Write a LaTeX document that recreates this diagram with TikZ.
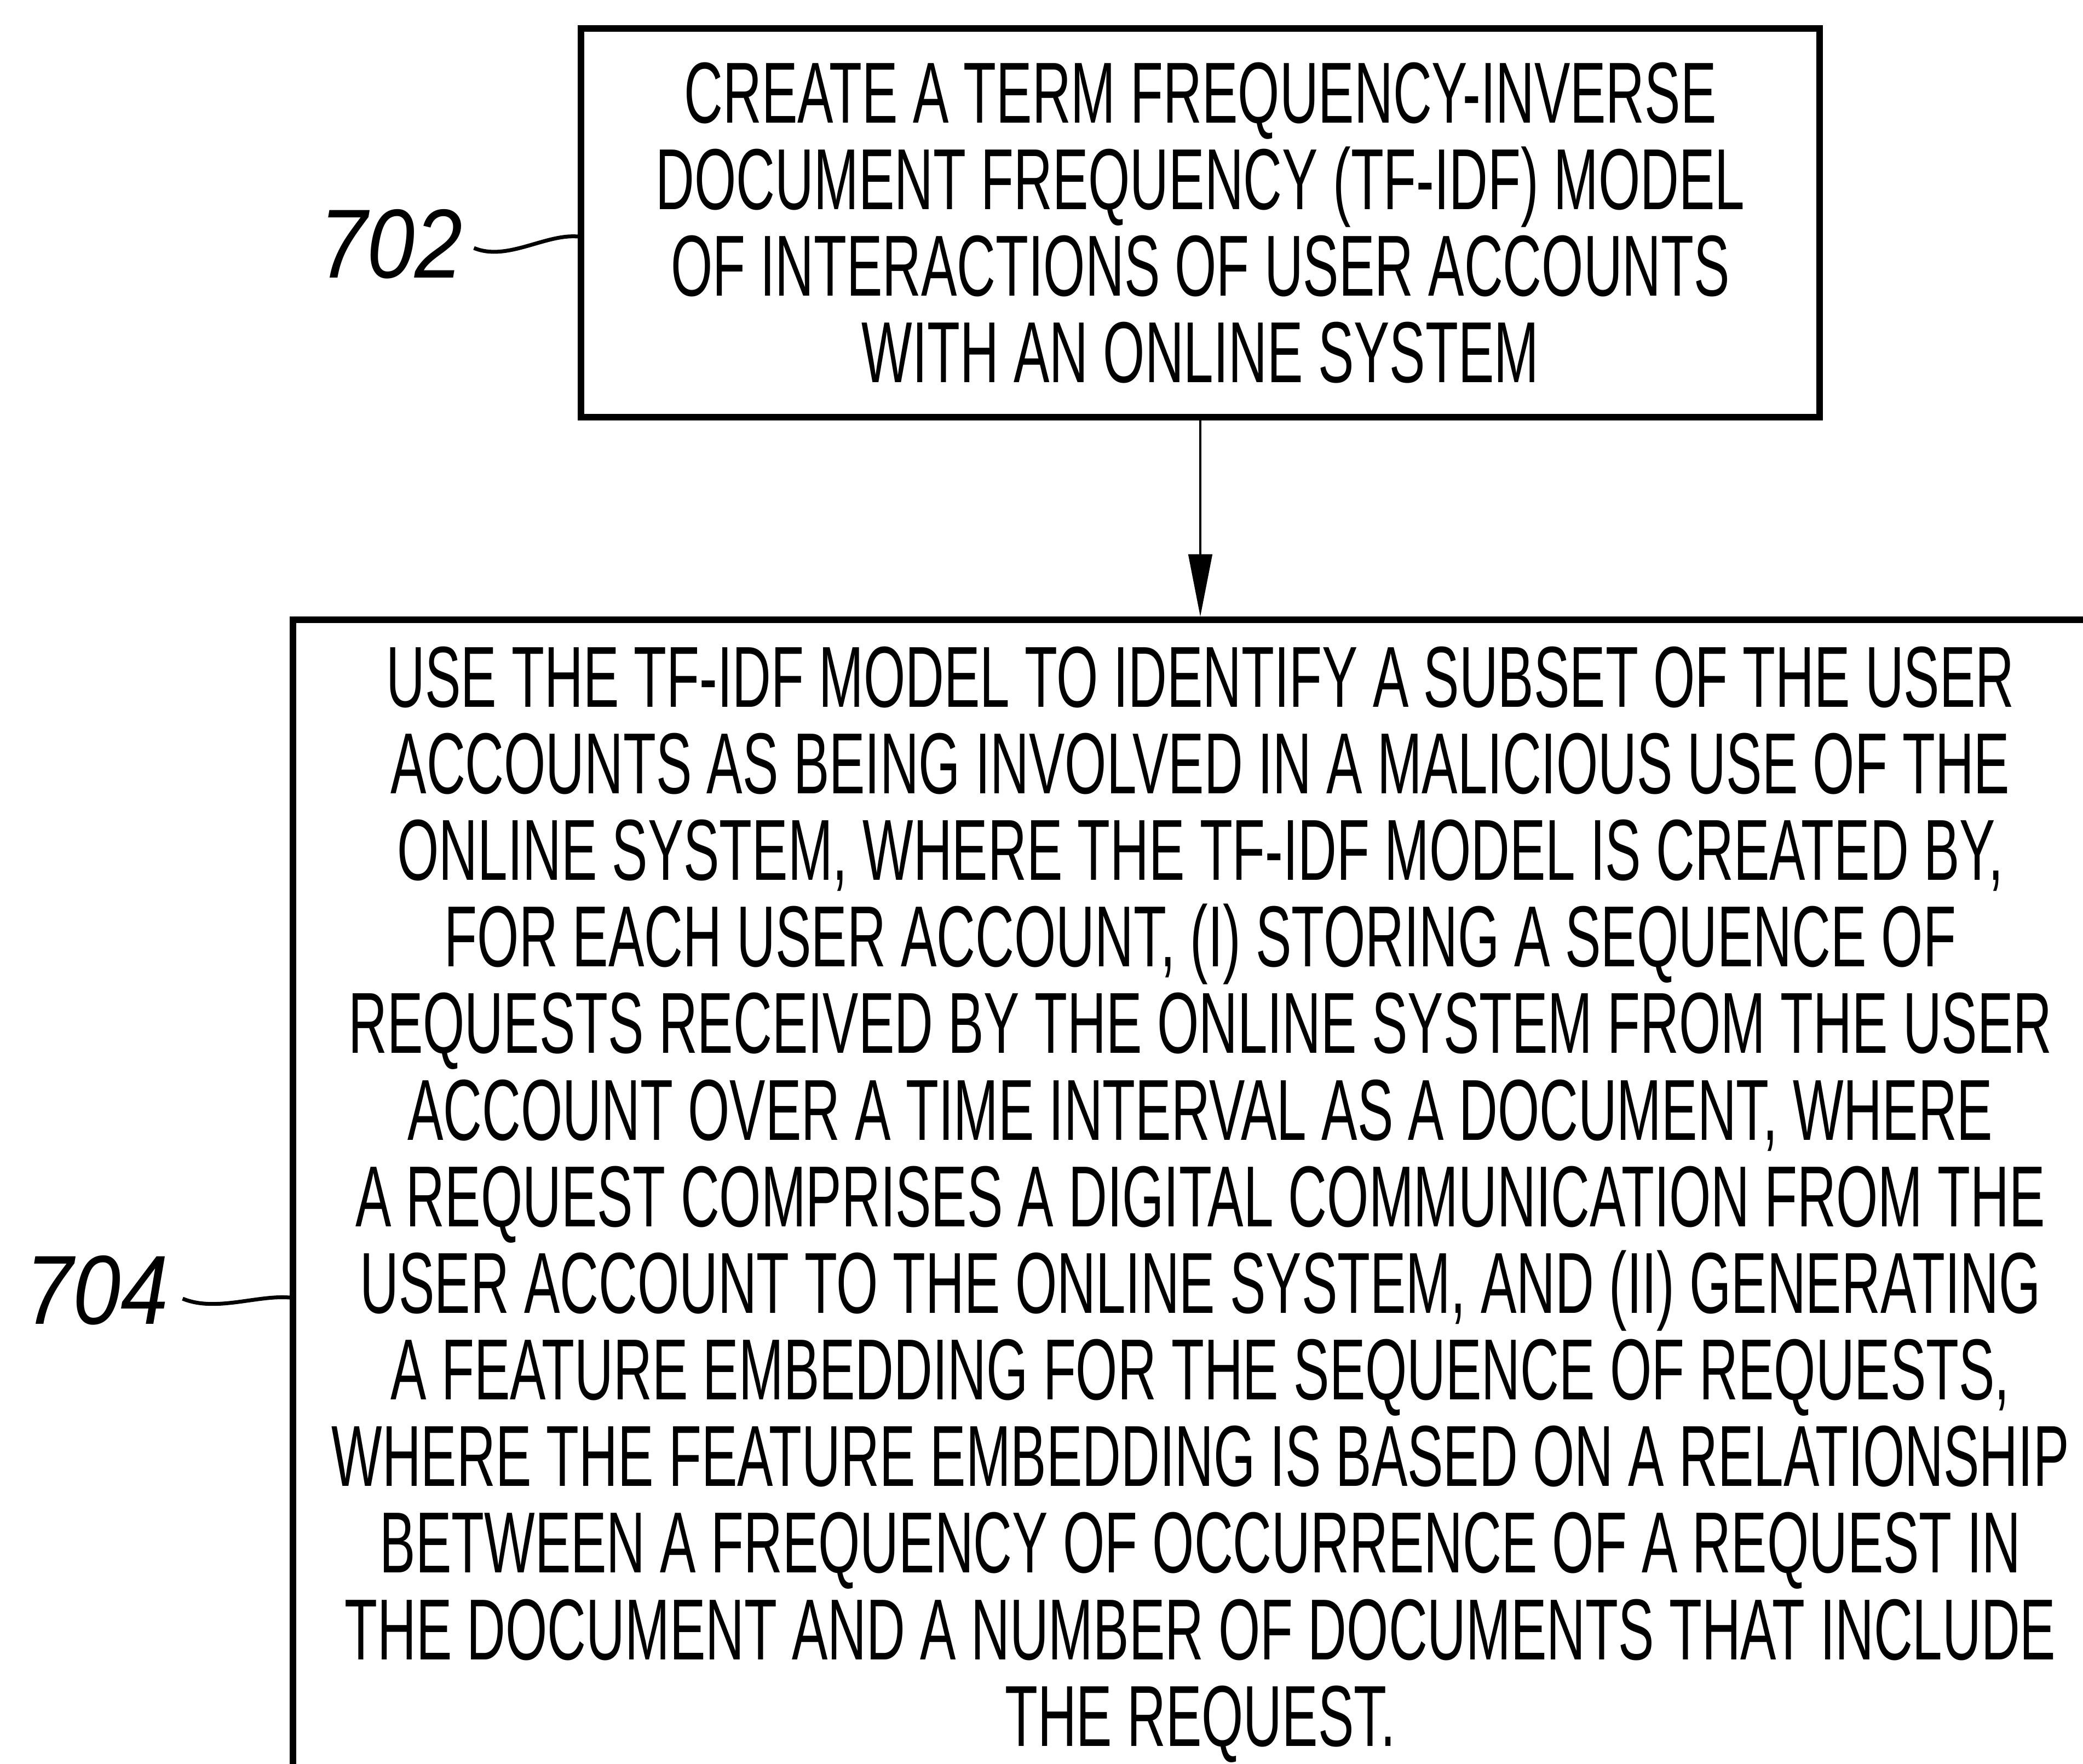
\documentclass[tikz,border=0pt]{standalone}
\usepackage{fontspec}
\usetikzlibrary{arrows.meta}
\newfontfamily\boxfont[FakeStretch=0.62]{Liberation Sans}
\newfontfamily\reffont[FakeStretch=0.875]{Liberation Sans}

\begin{document}
\begin{tikzpicture}[
    stepbox/.style={draw, line width=3.2pt, align=center, inner sep=0pt,
      font=\boxfont\fontsize{45pt}{45pt}\selectfont},
    reflabel/.style={inner sep=0pt, font=\reffont\itshape\fontsize{51pt}{53pt}\selectfont},
    squiggle/.style={line width=2pt}
]
    \clip (0,0) rectangle (38.04,-32.22);
    % Step 702
    \node[stepbox, minimum width=22.62cm, minimum height=7.10cm] (box702) at (21.92,-4.07) {CREATE A TERM FREQUENCY-INVERSE\\DOCUMENT FREQUENCY (TF-IDF) MODEL\\OF INTERACTIONS OF USER ACCOUNTS\\WITH AN ONLINE SYSTEM};
    % Step 704
    \node[stepbox, minimum width=33.14cm, minimum height=21.36cm] (box704) at (21.92,-22.00) {USE THE TF-IDF MODEL TO IDENTIFY A SUBSET OF THE USER\\ACCOUNTS AS BEING INVOLVED IN A MALICIOUS USE OF THE\\ONLINE SYSTEM, WHERE THE TF-IDF MODEL IS CREATED BY,\\FOR EACH USER ACCOUNT, (I) STORING A SEQUENCE OF\\REQUESTS RECEIVED BY THE ONLINE SYSTEM FROM THE USER\\ACCOUNT OVER A TIME INTERVAL AS A DOCUMENT, WHERE\\A REQUEST COMPRISES A DIGITAL COMMUNICATION FROM THE\\USER ACCOUNT TO THE ONLINE SYSTEM, AND (II) GENERATING\\A FEATURE EMBEDDING FOR THE SEQUENCE OF REQUESTS,\\WHERE THE FEATURE EMBEDDING IS BASED ON A RELATIONSHIP\\BETWEEN A FREQUENCY OF OCCURRENCE OF A REQUEST IN\\THE DOCUMENT AND A NUMBER OF DOCUMENTS THAT INCLUDE\\THE REQUEST.};

    % Arrow
    \draw[-{Triangle[length=1.14cm, width=0.43cm]}, line width=1.4pt] (box702) -- (box704);

    % Reference numerals
    \node[reflabel] (l702) at (7.14,-4.46) {702};
    \node[reflabel] (l704) at (1.77,-23.57) {704};
    \draw[squiggle] ([xshift=2mm,yshift=-0.7mm]l702.east) .. controls +(0.6,-0.25) and +(-0.6,0.05) .. ([yshift=-2.5mm]box702.west);
    \draw[squiggle] ([xshift=2.5mm,yshift=-1.5mm]l704.east) .. controls +(0.6,-0.25) and +(-0.6,0.05) .. ([yshift=-17mm]box704.west);
\end{tikzpicture}
\end{document}
